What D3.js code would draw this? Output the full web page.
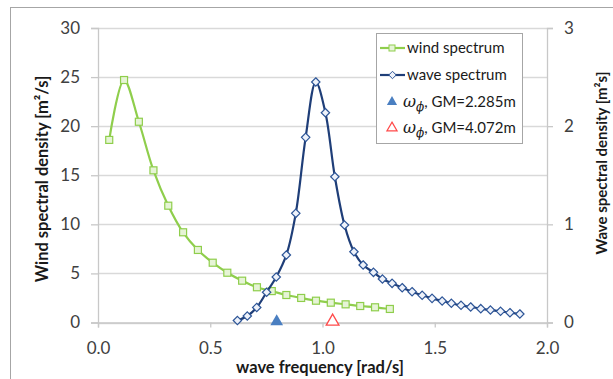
<!DOCTYPE html>
<html><head><meta charset="utf-8">
<script src="https://cdn.jsdelivr.net/npm/d3@7/dist/d3.min.js"></script>
<style>
body{margin:0;background:#fff;}
svg{display:block;font-family:Lato,"Open Sans",sans-serif;}
</style></head>
<body><svg id="c" width="613" height="379"></svg>
<script>
// wind spectrum (left axis)
const windFreq = [0.05,0.116,0.182,0.247,0.313,0.379,0.445,0.511,0.576,0.642,0.708,0.774,0.839,0.905,0.971,1.037,1.103,1.168,1.234,1.3];
const windDens = [18.6,24.7,20.45,15.5,11.9,9.19,7.39,6.09,5.07,4.26,3.59,3.2,2.8,2.5,2.22,2.02,1.85,1.68,1.55,1.38];
// wave spectrum (right axis)
const waveFreq = [0.621,0.665,0.707,0.751,0.794,0.839,0.881,0.925,0.970,1.013,1.055,1.098,1.140,1.181,1.227,1.267,1.310,1.355,1.399,1.444,1.488,1.533,1.574,1.617,1.660,1.705,1.748,1.793,1.835,1.879];
const waveDens = [0.02,0.066,0.153,0.308,0.463,0.688,1.112,1.886,2.45,2.137,1.485,0.993,0.721,0.586,0.511,0.443,0.399,0.354,0.314,0.277,0.246,0.219,0.196,0.175,0.158,0.141,0.127,0.114,0.100,0.087];
// roll natural frequencies
const gmLabels = ["2.285m","4.072m"];
const gmFreq = [0.796,1.045];
const xTicks = [0,0.5,1.0,1.5,2.0];
const yLeftTicks = [0,5,10,15,20,25,30];
const yRightTicks = [0,1,2,3];

const svg = d3.select("#c");
const x = d3.scaleLinear().domain([0,2]).range([98,547]);
const yL = d3.scaleLinear().domain([0,30]).range([322.5,28]);
const yR = d3.scaleLinear().domain([0,3]).range([322.5,28]);

const green="#8fce4c", navy="#1f3e78", blueTri="#4a7fc1", red="#ff4a4a";
const tickCol="#404040", gridCol="#d9d9d9";

// outer frame
svg.append("rect").attr("x",10.5).attr("y",7.5).attr("width",640).attr("height",400)
  .attr("fill","none").attr("stroke","#a6a6a6");

// gridlines
svg.append("g").selectAll("line").data(yLeftTicks).join("line")
  .attr("x1",x(0)).attr("x2",x(2)).attr("y1",d=>Math.round(yL(d))+0.5).attr("y2",d=>Math.round(yL(d))+0.5)
  .attr("stroke",gridCol).attr("stroke-width",1.3);

// axes
const axL = d3.axisLeft(yL).tickValues(yLeftTicks).tickSize(7).tickPadding(11).tickFormat(d3.format("d"));
const gL = svg.append("g").attr("transform",`translate(${x(0)},0)`).call(axL);
const axR = d3.axisRight(yR).tickValues(yRightTicks).tickSize(6).tickPadding(11).tickFormat(d3.format("d"));
const gR = svg.append("g").attr("transform",`translate(${x(2)},0)`).call(axR);
const axB = d3.axisBottom(x).tickValues(xTicks).tickSize(5).tickPadding(14).tickFormat(d3.format(".1f"));
const gB = svg.append("g").attr("transform",`translate(0,${yL(0)})`).call(axB);
[gL,gR,gB].forEach(g=>{
  g.select(".domain").attr("stroke","#c8c8c8").attr("stroke-width",1.3);
  g.selectAll(".tick line").attr("stroke","#c8c8c8").attr("stroke-width",1.3);
  g.selectAll(".tick text").attr("fill",tickCol).style("font-size","17px").style("font-family","Lato, sans-serif");
});

// wind line
const line = (xs,ys,yScale)=>d3.line().curve(d3.curveCatmullRom.alpha(0.5))
  .x((d,i)=>x(xs[i])).y((d,i)=>yScale(ys[i]));
svg.append("path").attr("d",line(windFreq,windDens,yL)(windDens))
  .attr("fill","none").attr("stroke",green).attr("stroke-width",2.2);
svg.append("g").selectAll("rect").data(windDens).join("rect")
  .attr("x",(d,i)=>x(windFreq[i])-3.5).attr("y",d=>yL(d)-3.5).attr("width",7).attr("height",7)
  .attr("fill","#e6f4d6").attr("stroke",green).attr("stroke-width",1.2);

// wave line
svg.append("path").attr("d",line(waveFreq,waveDens,yR)(waveDens))
  .attr("fill","none").attr("stroke",navy).attr("stroke-width",2.2);
const diamond = d3.symbol().type(d3.symbolDiamond2).size(45);
svg.append("g").selectAll("path").data(waveDens).join("path")
  .attr("transform",(d,i)=>`translate(${x(waveFreq[i])},${yR(d)})`)
  .attr("d",diamond).attr("fill","#eef2fa").attr("stroke","#2d5597").attr("stroke-width",1.2);

// triangles
const tri = d3.symbol().type(d3.symbolTriangle).size(70);
svg.append("path").attr("transform",`translate(${x(gmFreq[0])},${yR(0)-1})`).attr("d",tri).attr("fill",blueTri);
svg.append("path").attr("transform",`translate(${x(gmFreq[1])},${yR(0)-1})`).attr("d",tri)
  .attr("fill","#fff").attr("stroke",red).attr("stroke-width",1.3);

// axis titles
svg.append("text").attr("transform","translate(48,179) rotate(-90)").attr("text-anchor","middle")
  .style("font-size","16.5px").style("font-weight","bold").attr("fill","#1a1a1a").text("Wind spectral density [m²/s]");
svg.append("text").attr("transform","translate(607,163) rotate(-90)").attr("text-anchor","middle")
  .style("font-size","15px").style("font-weight","bold").attr("fill","#1a1a1a").text("Wave spectral density [m²s]");
svg.append("text").attr("x",320).attr("y",373).attr("text-anchor","middle")
  .style("font-size","16.5px").style("font-weight","bold").attr("fill","#1a1a1a").text("wave frequency [rad/s]");

// legend
const lg = svg.append("g");
lg.append("rect").attr("x",376.5).attr("y",33.5).attr("width",146).attr("height",110)
  .attr("fill","#fff").attr("stroke","#a6a6a6");
const rows=[48,75,102,128];
// wind
lg.append("line").attr("x1",380).attr("x2",405).attr("y1",rows[0]).attr("y2",rows[0]).attr("stroke",green).attr("stroke-width",2.2);
lg.append("rect").attr("x",389).attr("y",rows[0]-3).attr("width",6).attr("height",6).attr("fill","#e6f4d6").attr("stroke",green);
lg.append("text").attr("x",407).attr("y",rows[0]+5).style("font-size","15px").attr("fill","#1a1a1a").text("wind spectrum");
// wave
lg.append("line").attr("x1",380).attr("x2",405).attr("y1",rows[1]).attr("y2",rows[1]).attr("stroke",navy).attr("stroke-width",2.2);
lg.append("path").attr("transform",`translate(392.5,${rows[1]})`).attr("d",d3.symbol().type(d3.symbolDiamond2).size(35)).attr("fill","#eef2fa").attr("stroke","#2d5597");
lg.append("text").attr("x",407).attr("y",rows[1]+5).style("font-size","15px").attr("fill","#1a1a1a").text("wave spectrum");
// triangles
const smallTri = d3.symbol().type(d3.symbolTriangle).size(45);
lg.append("path").attr("transform",`translate(392,${rows[2]})`).attr("d",smallTri).attr("fill",blueTri);
lg.append("path").attr("transform",`translate(392,${rows[3]})`).attr("d",smallTri).attr("fill","#fff").attr("stroke",red).attr("stroke-width",1.2);
gmLabels.forEach((lab,i)=>{
  const t = lg.append("text").attr("x",403).attr("y",rows[2+i]+5).style("font-size","15px").attr("fill","#1a1a1a");
  t.append("tspan").style("font-style","italic").style("font-family","'DejaVu Serif',serif").style("font-size","16px").text("ω");
  t.append("tspan").attr("dy",4).style("font-style","italic").style("font-family","'DejaVu Serif',serif").style("font-size","12px").text("ϕ");
  t.append("tspan").attr("dy",-4).text(", GM="+lab);
});
</script></body></html>
